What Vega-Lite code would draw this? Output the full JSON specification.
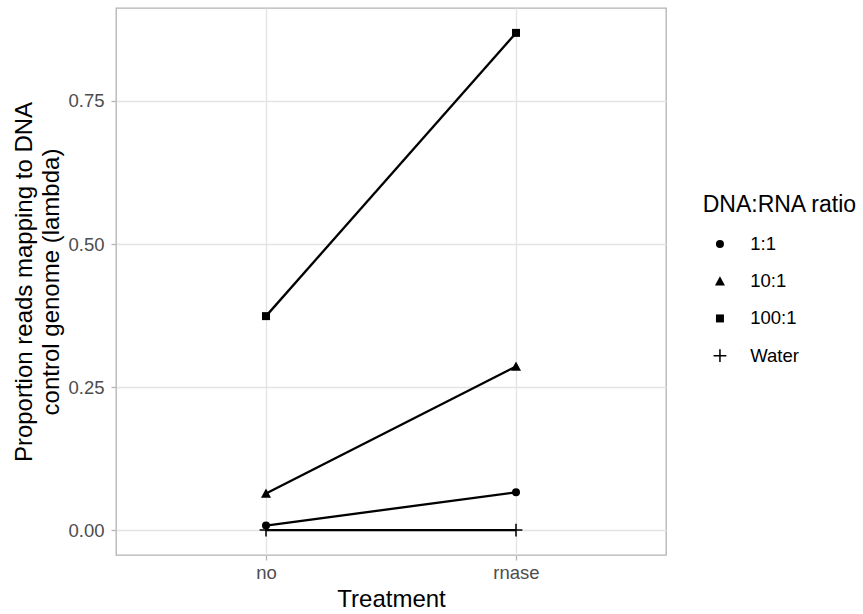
{
  "$schema": "https://vega.github.io/schema/vega-lite/v6.json",
  "autosize": {"type": "none"},
  "width": 550,
  "height": 547,
  "padding": {"left": 116, "top": 8, "right": 197, "bottom": 59},
  "background": "white",
  "data": {
    "values": [
      {"ratio": "1:1", "treatment": "no", "prop": 0.008},
      {"ratio": "1:1", "treatment": "rnase", "prop": 0.066},
      {"ratio": "10:1", "treatment": "no", "prop": 0.064},
      {"ratio": "10:1", "treatment": "rnase", "prop": 0.286},
      {"ratio": "100:1", "treatment": "no", "prop": 0.374},
      {"ratio": "100:1", "treatment": "rnase", "prop": 0.869},
      {"ratio": "Water", "treatment": "no", "prop": 0},
      {"ratio": "Water", "treatment": "rnase", "prop": 0}
    ]
  },
  "encoding": {
    "x": {
      "field": "treatment",
      "type": "nominal",
      "scale": {"type": "point", "padding": 0.6},
      "axis": {
        "title": "Treatment",
        "labelAngle": 0,
        "labelPadding": 3,
        "labelBaseline": "top",
        "titleX": 275,
        "titleY": 51.7,
        "titleBaseline": "alphabetic",
        "titleAlign": "center"
      }
    },
    "y": {
      "field": "prop",
      "type": "quantitative",
      "scale": {"domain": [-0.0435, 0.9125], "nice": false, "zero": false}
    }
  },
  "layer": [
    {
      "mark": {"type": "line", "color": "black", "strokeWidth": 2.3},
      "encoding": {
        "detail": {"field": "ratio"},
        "y": {
          "field": "prop",
          "type": "quantitative",
          "axis": {
            "title": ["Proportion reads mapping to DNA", "control genome (lambda)"],
            "values": [0, 0.25, 0.5, 0.75],
            "format": ".2f",
            "labelPadding": 7,
            "titleAngle": 270,
            "titleX": -85,
            "titleY": 273.5,
            "titleBaseline": "alphabetic",
            "titleAlign": "center",
            "titleLineHeight": 27,
            "titleFontSize": 24
          }
        }
      }
    },
    {
      "mark": {"type": "point", "filled": true, "fill": "black", "strokeWidth": 0, "size": 64, "opacity": 1},
      "encoding": {
        "shape": {
          "field": "ratio",
          "type": "nominal",
          "scale": {
            "domain": ["1:1", "10:1", "100:1", "Water"],
            "range": [
              "circle",
              "M0,-1.25L-1.25,1.05L1.25,1.05Z",
              "square",
              "M-1.6,-0.19H-0.19V-1.6H0.19V-0.19H1.6V0.19H0.19V1.6H-0.19V0.19H-1.6Z"
            ]
          },
          "legend": {"title": "DNA:RNA ratio"}
        },
        "y": {
          "field": "prop",
          "type": "quantitative",
          "axis": {
            "orient": "left",
            "values": [0.125, 0.375, 0.625, 0.875],
            "labels": false,
            "ticks": false,
            "domain": false,
            "title": null,
            "gridWidth": 0.7
          }
        }
      }
    }
  ],
  "resolve": {"axis": {"y": "independent"}},
  "config": {
    "font": "Liberation Sans",
    "view": {"stroke": "#b3b3b3", "strokeWidth": 1.3},
    "axis": {
      "domain": false,
      "grid": true,
      "gridColor": "#e3e3e3",
      "gridWidth": 1.3,
      "tickColor": "#b3b3b3",
      "tickWidth": 1.3,
      "tickSize": 5,
      "labelFont": "Liberation Sans",
      "labelFontSize": 18.5,
      "labelColor": "#4d4d4d",
      "titleFont": "Liberation Sans",
      "titleFontSize": 24,
      "titleFontWeight": "normal",
      "titleColor": "black"
    },
    "legend": {
      "orient": "none",
      "legendX": 586.7,
      "legendY": 185.8,
      "padding": 0,
      "titleFont": "Liberation Sans",
      "titleFontSize": 23,
      "titleFontWeight": "normal",
      "titleColor": "black",
      "titleBaseline": "top",
      "titlePadding": 18,
      "labelFont": "Liberation Sans",
      "labelFontSize": 18.5,
      "labelColor": "black",
      "symbolSize": 64,
      "symbolFillColor": "black",
      "symbolStrokeWidth": 0,
      "symbolOffset": 8,
      "labelOffset": 21,
      "rowPadding": 18.2
    }
  }
}
